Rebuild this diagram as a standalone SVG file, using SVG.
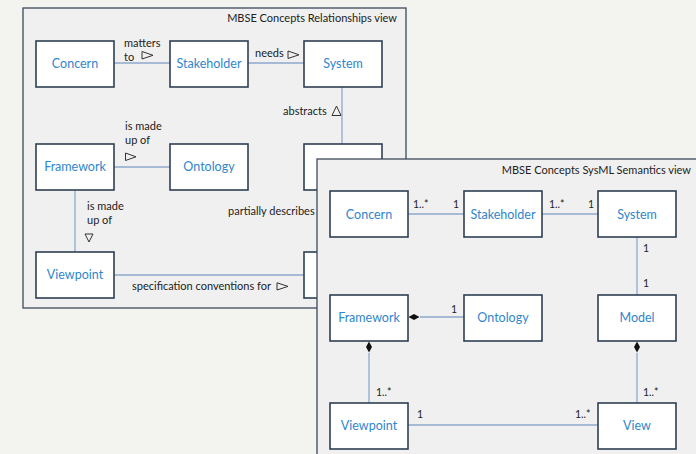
<svg xmlns="http://www.w3.org/2000/svg" width="696" height="454" viewBox="0 0 696 454">
<style>
.bg{fill:#f3f3ef}
.panel{fill:#f0f0f0;stroke:#3c4a5a;stroke-width:1.3}
.node rect{fill:#ffffff;stroke:#2f3f52;stroke-width:1.6}
.node text{font-family:Lato,"Open Sans",sans-serif;font-size:12.5px;fill:#2f86cc;text-anchor:middle}
.title{font-family:Lato,"Open Sans",sans-serif;font-size:11px;fill:#222;text-anchor:end}
.lbl{font-family:Lato,"Open Sans",sans-serif;font-size:11px;fill:#222}
.mult{font-family:Lato,"Open Sans",sans-serif;font-size:10.5px;fill:#222}
.conn line{stroke:#8ea9cc;stroke-width:1.3}
.tri{fill:none;stroke:#333;stroke-width:1}
.dia{fill:#111}
</style>
<rect class="bg" x="0" y="0" width="696" height="454"/>

<g id="panel-relationships">
<rect class="panel" x="23" y="8" width="383" height="300"/>
<text class="title" x="397" y="22">MBSE Concepts Relationships view</text>
<g class="conn" id="rel-connectors">
<line x1="114" y1="63" x2="170" y2="63"/>
<line x1="248" y1="63" x2="304" y2="63"/>
<line x1="342" y1="87" x2="342" y2="144"/>
<line x1="114" y1="167" x2="170" y2="167"/>
<line x1="75" y1="190" x2="75" y2="252"/>
<line x1="114" y1="275" x2="304" y2="275"/>
</g>
<g id="rel-labels">
<text class="lbl" x="124" y="47">matters</text>
<text class="lbl" x="124" y="61">to</text>
<polygon class="tri" points="142,51.5 142,59 153,55.3"/>
<text class="lbl" x="255" y="57">needs</text>
<polygon class="tri" points="288,51 288,58.5 299,54.8"/>
<text class="lbl" x="283" y="115">abstracts</text>
<polygon class="tri" points="336.5,106 332,115.5 341,115.5"/>
<text class="lbl" x="125" y="130">is made</text>
<text class="lbl" x="125" y="144">up of</text>
<polygon class="tri" points="125.5,153 125.5,160.5 136,156.8"/>
<text class="lbl" x="87" y="210">is made</text>
<text class="lbl" x="87" y="224">up of</text>
<polygon class="tri" points="85,234 93,234 89,242"/>
<text class="lbl" x="228" y="215">partially describes</text>
<text class="lbl" x="132" y="290">specification conventions for</text>
<polygon class="tri" points="277,282.8 277,290 288,286.4"/>
</g>
<g id="r-concern" class="node"><rect x="36" y="41" width="78" height="46"/><text x="75" y="68">Concern</text></g>
<g id="r-stakeholder" class="node"><rect x="170" y="41" width="78" height="46"/><text x="209" y="68">Stakeholder</text></g>
<g id="r-system" class="node"><rect x="304" y="41" width="78" height="46"/><text x="343" y="68">System</text></g>
<g id="r-framework" class="node"><rect x="36" y="144" width="78" height="46"/><text x="75" y="171">Framework</text></g>
<g id="r-ontology" class="node"><rect x="170" y="144" width="78" height="46"/><text x="209" y="171">Ontology</text></g>
<g id="r-model" class="node"><rect x="304" y="144" width="78" height="46"/></g>
<g id="r-viewpoint" class="node"><rect x="36" y="252" width="78" height="46"/><text x="75" y="279">Viewpoint</text></g>
<g id="r-view" class="node"><rect x="304" y="252" width="78" height="46"/></g>
</g>

<g id="panel-sysml">
<rect class="panel" x="317" y="159" width="400" height="320"/>
<text class="title" x="691" y="174">MBSE Concepts SysML Semantics view</text>
<g class="conn" id="sysml-connectors">
<line x1="408" y1="214" x2="464" y2="214"/>
<line x1="542" y1="214" x2="598" y2="214"/>
<line x1="637" y1="237" x2="637" y2="295"/>
<line x1="420" y1="317" x2="464" y2="317"/>
<line x1="369" y1="353" x2="369" y2="403"/>
<line x1="637" y1="353" x2="637" y2="403"/>
<line x1="408" y1="425" x2="598" y2="425"/>
</g>
<g id="sysml-ends">
<polygon class="dia" points="408.5,317 414,314 419.5,317 414,320"/>
<polygon class="dia" points="369,341.5 372,347 369,352.5 366,347"/>
<polygon class="dia" points="637,341.5 640,347 637,352.5 634,347"/>
<text class="mult" x="413" y="208">1..*</text>
<text class="mult" x="453" y="208">1</text>
<text class="mult" x="549" y="208">1..*</text>
<text class="mult" x="588" y="208">1</text>
<text class="mult" x="643" y="252">1</text>
<text class="mult" x="643" y="287">1</text>
<text class="mult" x="451" y="313">1</text>
<text class="mult" x="376" y="396">1..*</text>
<text class="mult" x="643" y="396">1..*</text>
<text class="mult" x="417" y="418">1</text>
<text class="mult" x="575" y="418">1..*</text>
</g>
<g id="s-concern" class="node"><rect x="330" y="191" width="78" height="46"/><text x="369" y="219">Concern</text></g>
<g id="s-stakeholder" class="node"><rect x="464" y="191" width="78" height="46"/><text x="503" y="219">Stakeholder</text></g>
<g id="s-system" class="node"><rect x="598" y="191" width="78" height="46"/><text x="637" y="219">System</text></g>
<g id="s-framework" class="node"><rect x="330" y="295" width="78" height="46"/><text x="369" y="322">Framework</text></g>
<g id="s-ontology" class="node"><rect x="464" y="295" width="78" height="46"/><text x="503" y="322">Ontology</text></g>
<g id="s-model" class="node"><rect x="598" y="295" width="78" height="46"/><text x="637" y="322">Model</text></g>
<g id="s-viewpoint" class="node"><rect x="330" y="403" width="78" height="46"/><text x="369" y="430">Viewpoint</text></g>
<g id="s-view" class="node"><rect x="598" y="403" width="78" height="46"/><text x="637" y="430">View</text></g>
</g>
</svg>
